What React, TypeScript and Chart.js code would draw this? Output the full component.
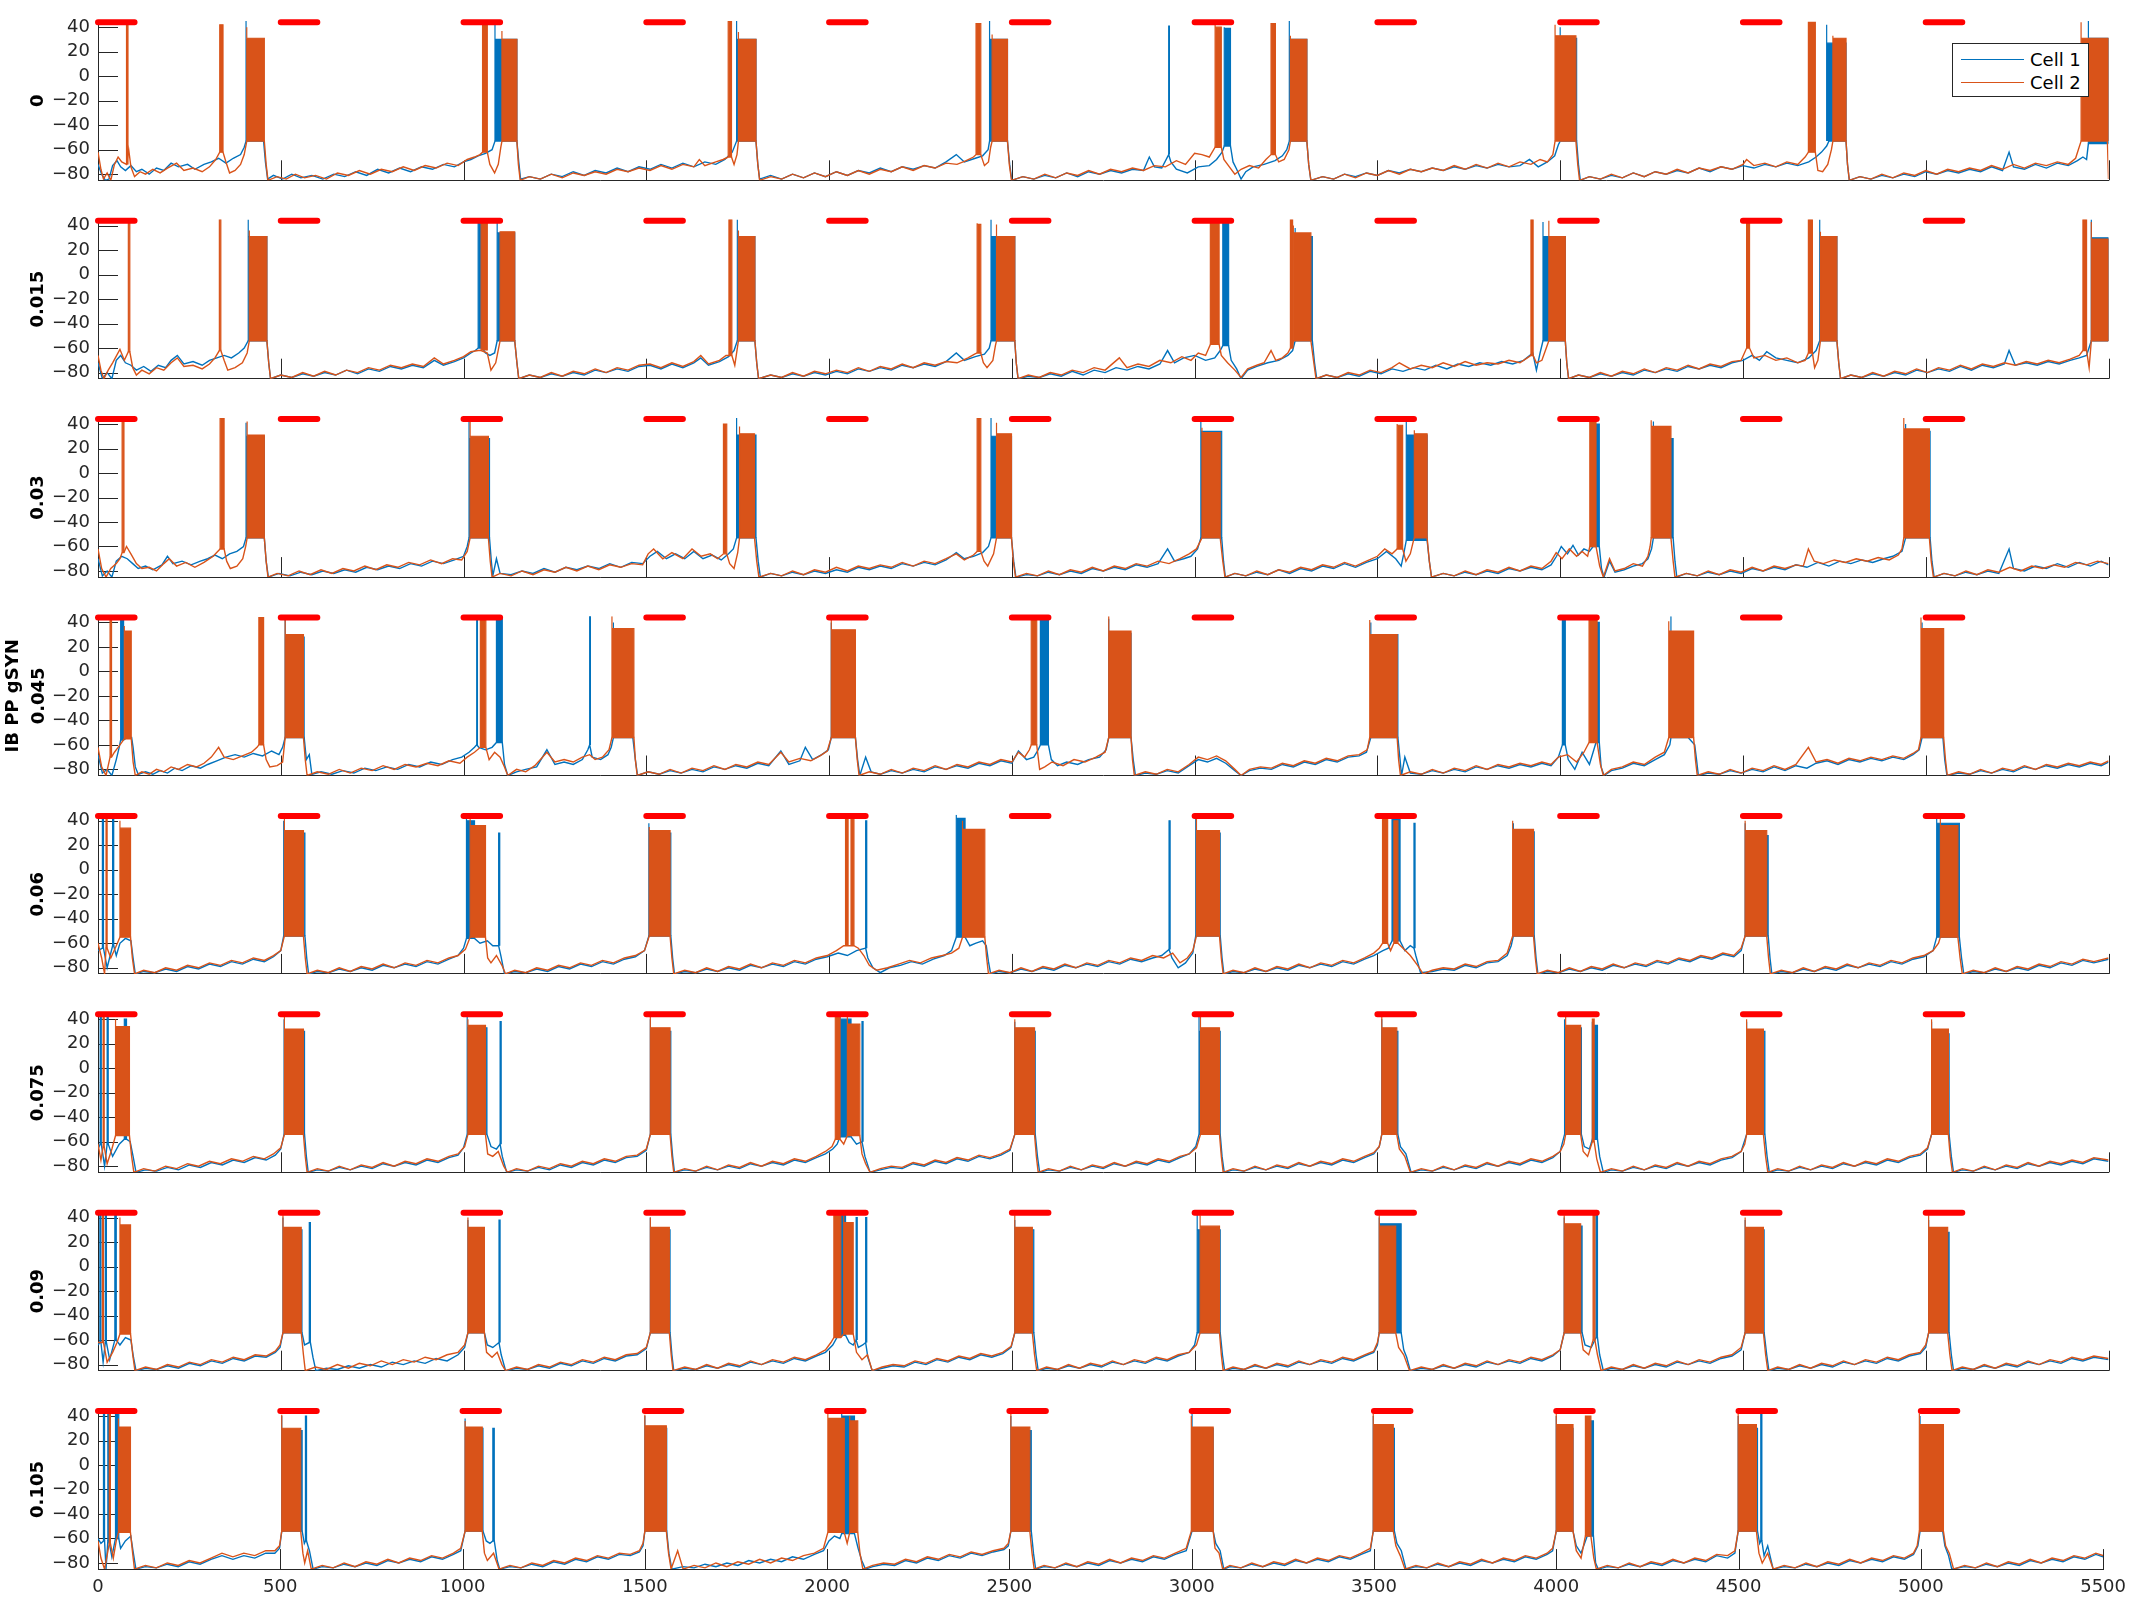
import React, { useEffect, useRef } from "react";
import { Chart, registerables } from "chart.js";
Chart.register(...registerables);

// ---------- shared axis data ----------
const xTickValues = [0, 500, 1000, 1500, 2000, 2500, 3000, 3500, 4000, 4500, 5000, 5500];
const xTickLabels = ["0", "500", "1000", "1500", "2000", "2500", "3000", "3500", "4000", "4500", "5000", "5500"];
const yTickValues = [-80, -60, -40, -20, 0, 20, 40];
const yTickLabels = ["\u221280", "\u221260", "\u221240", "\u221220", "0", "20", "40"];
const xMin = 0;
const xMax = 5500;
const yMin = -85;
const yMax = 45;

// stimulus bars (red)
const stimStarts = [0, 500, 1000, 1500, 2000, 2500, 3000, 3500, 4000, 4500, 5000];
const stimEnds = [100, 600, 1100, 1600, 2100, 2600, 3100, 3600, 4100, 4600, 5100];
const stimLevel = 44;

const panelLabels: (string | string[])[] = ["0", "0.015", "0.03", ["IB PP gSYN", "0.045"], "0.06", "0.075", "0.09", "0.105"];
const seriesNames = ["Cell 1", "Cell 2"];

// bursts: [tStart, tEnd, firstSpikePeak, burstTop, troughLevel]
// ---------- panel 1 : gSYN 0 ----------
const p1Cell1Bursts = [[405,453,45,30,-53],[1086,1146,42,30,-53],[1747,1800,45,30,-53],[2439,2488,45,30,-53],[2929,2931,41,41,-64],[3081,3098,40,39,-57],[3259,3307,45,30,-53],[4000,4045,40,31,-53],[4729,4782,42,27,-53],[5445,5500,45,31,-55]];
const p1Cell2Bursts = [[78,82,45,45,-72],[333,342,42,42,-62],[407,455,40,31,-53],[1052,1065,45,45,-62],[1105,1146,37,30,-53],[1724,1733,45,45,-66],[1752,1800,36,30,-53],[2402,2415,43,43,-64],[2446,2488,34,30,-53],[3056,3073,42,40,-58],[3209,3221,43,43,-64],[3262,3307,33,30,-53],[3986,4043,42,33,-53],[4679,4698,44,44,-62],[4746,4782,33,31,-53],[5425,5500,44,31,-53]];
const p1Cell1Trace = [0,-72,10,-80,20,-85,30,-84,40,-73,52,-69,62,-74,75,-77,90,-73,105,-78,120,-76,140,-80,160,-75,180,-77,200,-71,220,-74,245,-72,265,-76,290,-72,310,-70,330,-67,350,-71,370,-67,390,-64,400,-58,405,-53,453,-53,458,-70,464,-84,480,-81,505,-84,530,-80,555,-83,585,-81,615,-84,645,-80,675,-82,705,-78,735,-81,765,-76,795,-79,825,-75,855,-78,885,-74,915,-76,945,-72,975,-74,1000,-70,1020,-68,1040,-65,1060,-63,1078,-60,1086,-53,1146,-53,1151,-70,1156,-84,1180,-82,1210,-84,1240,-80,1270,-82,1300,-78,1330,-81,1360,-77,1390,-79,1420,-75,1450,-78,1480,-74,1510,-76,1540,-72,1570,-75,1600,-71,1630,-74,1660,-70,1690,-72,1715,-68,1735,-62,1747,-53,1800,-53,1805,-72,1810,-84,1840,-81,1870,-84,1900,-80,1930,-83,1960,-79,1990,-82,2020,-78,2050,-81,2080,-77,2110,-79,2140,-75,2170,-78,2200,-74,2230,-76,2260,-73,2290,-75,2320,-70,2348,-64,2370,-70,2400,-67,2420,-65,2435,-60,2439,-53,2488,-53,2494,-72,2500,-85,2530,-82,2560,-84,2590,-81,2620,-83,2650,-79,2680,-82,2710,-78,2740,-80,2770,-77,2800,-79,2830,-76,2860,-77,2876,-66,2890,-74,2910,-75,2929,-64,2935,-70,2950,-76,2980,-79,3010,-74,3040,-73,3060,-68,3075,-62,3081,-57,3098,-57,3105,-70,3115,-76,3127,-84,3140,-78,3160,-74,3190,-72,3220,-69,3240,-65,3252,-60,3259,-53,3307,-53,3312,-72,3318,-85,3350,-82,3380,-84,3410,-80,3440,-82,3470,-79,3500,-81,3530,-77,3560,-79,3590,-76,3620,-78,3650,-75,3680,-77,3710,-74,3740,-76,3770,-73,3800,-75,3830,-72,3860,-74,3890,-73,3916,-68,3940,-74,3965,-70,3985,-65,3995,-56,4000,-53,4045,-53,4050,-72,4055,-85,4080,-82,4110,-84,4140,-81,4170,-83,4200,-79,4230,-82,4260,-78,4290,-80,4320,-77,4350,-79,4380,-75,4410,-78,4440,-74,4470,-76,4500,-73,4530,-75,4560,-72,4590,-74,4620,-71,4650,-73,4680,-70,4700,-66,4715,-62,4729,-57,4735,-53,4782,-53,4786,-72,4791,-85,4820,-82,4850,-84,4880,-81,4910,-83,4940,-80,4970,-82,5000,-78,5030,-80,5060,-77,5090,-79,5120,-76,5150,-78,5180,-74,5210,-77,5228,-62,5240,-74,5270,-76,5300,-72,5330,-75,5360,-71,5390,-73,5415,-69,5430,-66,5440,-68,5445,-55,5500,-55];
const p1Cell2Trace = [0,-62,8,-76,15,-84,25,-79,35,-85,45,-72,55,-66,65,-70,78,-72,84,-60,90,-74,100,-82,115,-78,130,-80,150,-76,170,-79,190,-75,215,-71,235,-77,260,-75,285,-78,305,-74,322,-68,333,-62,342,-62,350,-70,360,-79,375,-77,390,-72,400,-64,407,-53,455,-53,460,-72,465,-85,490,-82,515,-84,540,-80,565,-83,595,-81,625,-84,655,-79,685,-81,715,-77,745,-80,775,-76,805,-78,835,-74,865,-77,895,-73,925,-75,955,-71,985,-73,1010,-68,1030,-66,1045,-64,1052,-62,1065,-62,1072,-72,1085,-79,1095,-72,1102,-58,1105,-53,1146,-53,1150,-72,1155,-85,1180,-82,1210,-84,1240,-80,1270,-83,1300,-79,1330,-81,1360,-78,1390,-80,1420,-76,1450,-78,1480,-75,1510,-77,1540,-73,1570,-76,1600,-72,1630,-74,1645,-68,1660,-73,1690,-70,1710,-68,1724,-66,1733,-66,1740,-72,1748,-64,1752,-53,1800,-53,1805,-72,1810,-85,1840,-82,1870,-84,1900,-80,1930,-83,1960,-79,1990,-82,2020,-78,2050,-81,2080,-77,2110,-80,2140,-76,2170,-78,2200,-74,2230,-77,2260,-73,2290,-75,2320,-71,2350,-72,2375,-69,2395,-66,2402,-64,2415,-64,2425,-73,2436,-70,2442,-58,2446,-53,2488,-53,2493,-72,2499,-85,2530,-82,2560,-84,2590,-80,2620,-83,2650,-79,2680,-81,2710,-77,2740,-80,2770,-76,2800,-78,2830,-75,2860,-77,2890,-73,2920,-74,2950,-69,2975,-72,3000,-63,3020,-64,3040,-66,3056,-58,3073,-58,3080,-68,3095,-74,3110,-80,3127,-76,3150,-73,3175,-75,3195,-68,3209,-64,3221,-64,3230,-70,3245,-68,3258,-60,3262,-53,3307,-53,3312,-72,3318,-85,3350,-82,3380,-84,3410,-80,3440,-83,3470,-79,3500,-81,3530,-77,3560,-80,3590,-76,3620,-78,3650,-75,3680,-77,3710,-73,3740,-76,3770,-72,3800,-75,3830,-71,3860,-74,3890,-70,3920,-72,3945,-68,3965,-70,3980,-64,3986,-53,4043,-53,4048,-72,4053,-85,4080,-82,4110,-84,4140,-80,4170,-83,4200,-79,4230,-82,4260,-78,4290,-80,4320,-76,4350,-79,4380,-75,4410,-77,4440,-74,4470,-76,4500,-72,4510,-68,4530,-73,4560,-71,4590,-74,4620,-70,4650,-72,4670,-66,4679,-62,4698,-62,4705,-77,4718,-78,4732,-72,4742,-60,4746,-53,4782,-53,4786,-72,4791,-85,4820,-82,4850,-84,4880,-80,4910,-83,4940,-79,4970,-81,5000,-77,5030,-80,5060,-76,5090,-78,5120,-75,5150,-77,5180,-73,5210,-76,5240,-72,5270,-75,5300,-71,5330,-73,5360,-70,5390,-72,5410,-67,5425,-53,5497,-53,5500,-84];

// ---------- panel 2 : 0.015 ----------
const p2Cell1Bursts = [[411,462,45,31,-54],[1040,1052,42,42,-60],[1092,1140,43,34,-54],[1749,1797,45,31,-54],[2443,2508,45,31,-54],[3077,3093,42,42,-58],[3275,3322,38,31,-54],[3953,4014,43,31,-54],[4710,4757,45,31,-54],[5453,5500,45,30,-54]];
const p2Cell2Bursts = [[83,87,45,45,-63],[332,336,45,45,-62],[414,462,36,31,-54],[1048,1065,44,42,-62],[1100,1140,34,35,-54],[1726,1734,45,45,-66],[1752,1797,36,31,-54],[2405,2415,42,41,-64],[2458,2508,41,31,-54],[3043,3067,43,42,-57],[3262,3268,45,45,-60],[3270,3318,40,34,-54],[3920,3926,45,45,-66],[3969,4014,44,31,-54],[4510,4518,44,44,-60],[4679,4690,45,45,-64],[4712,4757,35,31,-54],[5430,5440,45,45,-62],[5453,5500,43,29,-54]];
const p2Cell1Trace = [0,-72,12,-85,25,-80,38,-85,50,-70,62,-66,75,-72,90,-74,105,-78,125,-75,145,-79,165,-74,185,-76,200,-70,217,-66,235,-73,260,-71,285,-74,305,-70,325,-68,345,-66,365,-68,385,-64,400,-60,411,-54,462,-54,467,-72,472,-85,500,-82,530,-84,560,-81,590,-83,620,-80,650,-82,680,-78,710,-81,740,-77,770,-79,800,-75,830,-77,860,-74,890,-76,920,-70,945,-74,975,-71,1000,-68,1020,-64,1032,-62,1040,-60,1052,-60,1060,-64,1072,-66,1085,-64,1092,-54,1140,-54,1146,-72,1151,-85,1180,-82,1210,-84,1240,-81,1270,-83,1300,-80,1330,-82,1360,-78,1390,-80,1420,-77,1450,-79,1480,-75,1510,-74,1540,-77,1570,-73,1600,-76,1630,-72,1649,-68,1670,-74,1700,-71,1725,-67,1740,-62,1749,-54,1797,-54,1802,-72,1807,-85,1840,-82,1870,-84,1900,-81,1930,-83,1960,-80,1990,-82,2020,-79,2050,-81,2080,-77,2110,-79,2140,-76,2170,-78,2200,-74,2230,-76,2260,-73,2290,-75,2320,-71,2348,-64,2370,-70,2400,-67,2425,-65,2438,-60,2443,-54,2508,-54,2512,-72,2517,-85,2545,-83,2575,-84,2605,-81,2635,-83,2665,-79,2695,-82,2725,-78,2755,-80,2785,-76,2815,-78,2845,-75,2875,-77,2905,-73,2926,-62,2945,-72,2970,-68,3000,-66,3030,-70,3055,-68,3070,-62,3077,-58,3093,-58,3100,-70,3115,-77,3127,-85,3145,-78,3170,-75,3200,-72,3230,-70,3255,-66,3268,-62,3275,-54,3322,-54,3328,-72,3334,-85,3360,-82,3390,-84,3420,-81,3450,-83,3480,-79,3510,-81,3540,-77,3570,-79,3600,-76,3630,-78,3660,-74,3690,-77,3720,-73,3750,-75,3780,-72,3810,-74,3840,-71,3870,-73,3900,-70,3925,-64,3935,-78,3945,-64,3953,-54,4014,-54,4018,-72,4023,-85,4050,-82,4080,-84,4110,-81,4140,-83,4170,-80,4200,-82,4230,-78,4260,-80,4290,-77,4320,-79,4350,-75,4380,-77,4410,-74,4440,-76,4470,-72,4500,-70,4525,-66,4545,-70,4565,-63,4590,-68,4620,-70,4650,-72,4680,-68,4700,-62,4710,-54,4757,-54,4762,-72,4767,-85,4795,-82,4825,-84,4855,-81,4885,-83,4915,-80,4945,-82,4975,-78,5005,-80,5035,-77,5065,-79,5095,-75,5125,-78,5155,-74,5185,-76,5215,-73,5228,-62,5245,-74,5275,-72,5305,-74,5335,-71,5365,-73,5395,-70,5420,-68,5440,-66,5453,-54,5500,-54];
const p2Cell2Trace = [0,-66,8,-78,16,-85,28,-78,40,-72,60,-61,72,-70,83,-63,87,-63,95,-76,105,-82,120,-78,140,-81,160,-76,180,-78,200,-72,217,-68,235,-75,260,-74,285,-77,305,-73,320,-68,332,-62,336,-62,345,-70,355,-78,375,-76,395,-72,408,-64,414,-54,462,-54,467,-72,472,-85,500,-82,530,-84,560,-80,590,-83,620,-79,650,-82,680,-78,710,-80,740,-76,770,-78,800,-74,830,-76,860,-73,890,-75,920,-68,945,-73,975,-70,1000,-67,1020,-63,1040,-62,1048,-62,1065,-64,1075,-78,1088,-72,1096,-60,1100,-54,1140,-54,1146,-72,1151,-85,1180,-82,1210,-84,1240,-80,1270,-83,1300,-79,1330,-81,1360,-77,1390,-80,1420,-76,1450,-78,1480,-74,1510,-73,1540,-76,1570,-72,1600,-75,1630,-71,1649,-66,1670,-73,1700,-70,1718,-66,1726,-66,1734,-66,1742,-74,1748,-62,1752,-54,1797,-54,1802,-72,1807,-85,1840,-82,1870,-84,1900,-80,1930,-83,1960,-79,1990,-81,2020,-78,2050,-80,2080,-76,2110,-79,2140,-75,2170,-77,2200,-73,2230,-76,2260,-72,2290,-74,2320,-71,2350,-72,2380,-68,2398,-65,2405,-64,2415,-64,2422,-72,2432,-76,2448,-70,2455,-58,2458,-54,2508,-54,2512,-72,2517,-85,2545,-82,2575,-84,2605,-80,2635,-82,2665,-78,2695,-80,2725,-76,2755,-78,2794,-68,2815,-76,2845,-73,2875,-75,2905,-70,2935,-72,2965,-67,2990,-70,3010,-64,3030,-66,3043,-57,3067,-57,3073,-66,3090,-72,3110,-78,3127,-84,3145,-77,3170,-74,3190,-72,3209,-62,3222,-70,3240,-68,3255,-64,3262,-60,3268,-60,3270,-54,3318,-54,3326,-72,3332,-85,3360,-82,3390,-84,3420,-80,3450,-82,3480,-78,3510,-80,3540,-76,3560,-72,3590,-77,3620,-74,3650,-76,3680,-72,3710,-75,3740,-71,3770,-74,3800,-72,3830,-73,3860,-70,3890,-72,3910,-68,3920,-66,3926,-66,3935,-72,3950,-70,3962,-60,3969,-54,4014,-54,4018,-72,4023,-85,4050,-82,4080,-84,4110,-80,4140,-83,4170,-79,4200,-81,4230,-77,4260,-80,4290,-76,4320,-78,4350,-74,4380,-77,4410,-73,4440,-75,4470,-71,4495,-70,4510,-60,4518,-60,4530,-68,4560,-66,4590,-70,4620,-68,4650,-72,4670,-70,4679,-64,4690,-64,4696,-76,4705,-70,4712,-54,4757,-54,4762,-72,4767,-85,4795,-82,4825,-84,4855,-80,4885,-83,4915,-79,4945,-81,4975,-77,5005,-80,5035,-76,5065,-78,5095,-74,5125,-77,5155,-73,5185,-75,5215,-72,5245,-74,5275,-71,5305,-73,5335,-70,5365,-72,5395,-69,5420,-66,5430,-62,5440,-62,5447,-76,5453,-54,5500,-54];

// ---------- panel 3 : 0.03 ----------
const p3Cell1Bursts = [[405,455,41,30,-53],[1015,1071,42,28,-53],[1747,1800,45,31,-53],[2443,2499,45,30,-53],[3017,3074,43,34,-53],[3579,3636,42,31,-55],[4090,4107,42,40,-60],[4255,4309,42,28,-53],[4945,5012,40,34,-53]];
const p3Cell2Bursts = [[66,71,42,42,-65],[334,345,45,45,-62],[408,455,42,31,-53],[1018,1068,42,30,-53],[1711,1720,40,40,-66],[1755,1796,38,32,-53],[2405,2415,45,45,-64],[2458,2499,41,32,-53],[3020,3070,37,33,-53],[3554,3569,40,39,-62],[3601,3636,35,32,-53],[4081,4098,42,42,-60],[4249,4303,43,38,-53],[4940,5010,45,36,-53]];
const p3Cell1Trace = [0,-70,12,-84,25,-80,38,-85,50,-72,65,-68,80,-70,95,-74,110,-78,130,-76,150,-79,175,-75,190,-68,205,-74,230,-72,255,-75,280,-72,300,-70,320,-67,340,-70,360,-66,380,-64,398,-60,405,-53,455,-53,460,-72,466,-85,495,-82,525,-84,555,-81,585,-83,615,-80,645,-82,675,-79,705,-81,735,-77,765,-79,795,-76,825,-78,855,-74,885,-76,915,-72,945,-74,975,-71,1000,-68,1010,-60,1015,-53,1071,-53,1076,-72,1080,-84,1090,-70,1100,-82,1130,-83,1160,-80,1190,-82,1220,-78,1250,-81,1280,-77,1310,-79,1340,-76,1370,-78,1400,-74,1430,-77,1460,-73,1490,-74,1510,-68,1530,-64,1555,-70,1580,-66,1605,-70,1630,-64,1655,-70,1680,-67,1705,-71,1725,-66,1738,-62,1747,-53,1800,-53,1806,-72,1812,-85,1840,-82,1870,-84,1900,-81,1930,-83,1960,-80,1990,-82,2020,-79,2050,-81,2080,-77,2110,-79,2140,-76,2170,-78,2200,-74,2230,-76,2260,-73,2290,-75,2320,-71,2348,-65,2370,-70,2395,-68,2420,-65,2436,-60,2443,-53,2499,-53,2505,-72,2511,-85,2540,-83,2570,-84,2600,-81,2630,-83,2660,-80,2690,-82,2720,-78,2750,-80,2780,-77,2810,-79,2840,-75,2870,-77,2900,-74,2926,-62,2945,-72,2970,-70,2990,-68,3008,-62,3017,-53,3074,-53,3079,-72,3084,-85,3110,-82,3140,-84,3170,-81,3200,-83,3230,-79,3260,-82,3290,-78,3320,-80,3350,-76,3380,-78,3410,-74,3440,-77,3470,-73,3500,-70,3525,-64,3550,-70,3565,-76,3572,-66,3579,-55,3636,-55,3642,-72,3648,-85,3680,-82,3710,-84,3740,-81,3770,-83,3800,-80,3830,-82,3860,-78,3890,-80,3920,-77,3950,-79,3975,-75,3990,-68,4003,-60,4020,-66,4035,-59,4050,-67,4065,-62,4080,-64,4090,-60,4107,-60,4113,-78,4120,-85,4135,-72,4150,-81,4175,-79,4200,-76,4225,-74,4240,-70,4250,-62,4255,-53,4309,-53,4314,-72,4319,-85,4345,-82,4375,-84,4405,-81,4435,-83,4465,-80,4495,-82,4525,-78,4555,-80,4585,-77,4615,-79,4645,-75,4675,-77,4705,-73,4735,-76,4765,-72,4795,-74,4825,-71,4855,-73,4885,-70,4910,-68,4935,-64,4945,-53,5012,-53,5017,-72,5023,-85,5050,-82,5080,-84,5110,-81,5140,-83,5170,-80,5200,-82,5228,-62,5240,-78,5270,-80,5300,-76,5330,-78,5360,-74,5390,-77,5420,-73,5450,-76,5480,-72,5500,-75];
const p3Cell2Trace = [0,-62,10,-78,22,-85,35,-78,50,-74,60,-70,66,-65,71,-65,78,-60,90,-66,105,-74,120,-78,140,-77,160,-80,180,-74,195,-70,215,-76,240,-73,265,-77,290,-73,315,-68,334,-62,345,-62,352,-72,362,-78,380,-76,396,-70,404,-60,408,-53,455,-53,460,-72,465,-85,490,-82,520,-84,550,-80,580,-83,610,-79,640,-82,670,-78,700,-80,730,-76,760,-79,790,-75,820,-77,850,-73,880,-75,910,-71,940,-74,970,-70,995,-71,1010,-64,1018,-53,1068,-53,1073,-72,1078,-85,1100,-82,1130,-84,1160,-80,1190,-83,1220,-79,1250,-81,1280,-77,1310,-80,1340,-76,1370,-79,1400,-75,1430,-77,1460,-74,1490,-75,1505,-66,1520,-62,1545,-70,1570,-65,1600,-70,1625,-62,1650,-68,1675,-66,1695,-70,1711,-66,1720,-66,1728,-74,1740,-78,1750,-65,1755,-53,1796,-53,1802,-72,1808,-85,1840,-82,1870,-84,1900,-80,1930,-83,1960,-79,1990,-81,2020,-77,2050,-80,2080,-76,2110,-78,2140,-75,2170,-77,2200,-73,2230,-76,2260,-72,2290,-74,2320,-70,2348,-66,2370,-71,2395,-67,2405,-64,2415,-64,2424,-72,2434,-76,2450,-66,2458,-53,2499,-53,2504,-72,2510,-85,2540,-82,2570,-84,2600,-80,2630,-83,2660,-79,2690,-81,2720,-77,2750,-80,2780,-76,2810,-78,2840,-74,2870,-76,2900,-72,2930,-74,2960,-70,2985,-66,3005,-62,3015,-56,3020,-53,3070,-53,3077,-72,3083,-85,3110,-82,3140,-84,3170,-80,3200,-83,3230,-79,3260,-81,3290,-77,3320,-79,3350,-75,3380,-77,3410,-73,3440,-76,3470,-72,3500,-68,3520,-62,3540,-66,3554,-62,3569,-62,3578,-72,3590,-66,3598,-56,3601,-53,3636,-53,3642,-72,3648,-85,3680,-82,3710,-84,3740,-80,3770,-83,3800,-79,3830,-81,3860,-77,3890,-80,3920,-76,3950,-78,3975,-72,3989,-65,4005,-70,4025,-62,4045,-68,4060,-64,4075,-68,4081,-60,4098,-60,4108,-76,4118,-85,4135,-70,4150,-80,4175,-78,4200,-74,4225,-76,4240,-68,4246,-60,4249,-53,4303,-53,4309,-72,4314,-85,4345,-82,4375,-84,4405,-80,4435,-83,4465,-79,4495,-81,4525,-77,4555,-80,4585,-76,4615,-78,4645,-75,4665,-76,4679,-62,4695,-72,4720,-74,4750,-71,4780,-73,4810,-70,4840,-72,4870,-69,4900,-71,4925,-67,4935,-62,4940,-53,5010,-53,5015,-72,5021,-85,5050,-82,5080,-84,5110,-80,5140,-83,5170,-79,5200,-81,5230,-77,5260,-80,5290,-76,5320,-78,5350,-75,5380,-77,5410,-73,5440,-75,5470,-72,5500,-74];

// ---------- panel 4 : 0.045 ----------
const p4Cell1Bursts = [[62,70,45,45,-56],[512,564,44,28,-54],[1036,1038,45,45,-60],[1090,1106,44,44,-58],[1345,1347,45,45,-60],[1410,1463,40,33,-54],[2006,2072,40,28,-54],[2578,2600,45,45,-60],[2765,2826,43,31,-54],[3482,3556,40,30,-54],[4006,4014,45,45,-60],[4098,4107,40,40,-58],[4303,4350,45,31,-54],[4990,5047,40,30,-54]];
const p4Cell2Bursts = [[33,37,45,45,-70],[72,91,37,33,-55],[440,453,44,44,-60],[512,562,44,30,-54],[1046,1061,45,45,-62],[1406,1466,45,35,-54],[2006,2072,42,34,-54],[2553,2568,45,45,-60],[2765,2826,45,33,-54],[3479,3554,42,30,-54],[4079,4101,42,42,-58],[4297,4365,41,33,-54],[4987,5049,44,35,-54]];
const p4Cell1Trace = [0,-68,12,-83,25,-80,38,-85,50,-72,58,-62,62,-56,70,-56,80,-54,92,-54,96,-62,102,-78,110,-84,130,-82,150,-84,170,-81,190,-83,210,-79,230,-81,255,-77,280,-79,300,-76,325,-73,350,-70,375,-68,400,-70,425,-67,450,-69,475,-65,495,-68,505,-62,512,-54,564,-54,570,-72,578,-68,585,-84,610,-82,640,-84,670,-81,700,-83,730,-79,760,-81,790,-78,820,-80,850,-76,880,-78,910,-74,940,-76,970,-72,995,-70,1015,-66,1030,-62,1036,-60,1042,-62,1060,-64,1078,-62,1090,-58,1106,-58,1112,-76,1121,-85,1145,-82,1170,-80,1200,-78,1228,-64,1250,-76,1275,-74,1300,-76,1325,-72,1340,-64,1345,-60,1352,-70,1375,-72,1395,-68,1404,-62,1410,-54,1463,-54,1470,-72,1476,-85,1505,-82,1535,-84,1565,-81,1595,-83,1625,-80,1655,-82,1685,-78,1715,-80,1745,-77,1775,-79,1805,-75,1835,-77,1868,-65,1890,-76,1920,-73,1935,-62,1955,-72,1980,-68,1998,-64,2006,-54,2072,-54,2078,-72,2084,-85,2100,-70,2115,-82,2140,-84,2170,-81,2200,-83,2230,-80,2260,-82,2290,-78,2320,-80,2350,-77,2380,-79,2410,-75,2440,-77,2470,-73,2500,-75,2518,-65,2540,-72,2560,-70,2572,-64,2578,-60,2600,-60,2608,-72,2625,-77,2650,-74,2680,-76,2710,-72,2740,-70,2758,-64,2765,-54,2826,-54,2832,-72,2838,-85,2865,-83,2895,-84,2925,-81,2955,-83,2985,-77,3010,-72,3035,-74,3060,-71,3085,-75,3110,-81,3127,-85,3150,-81,3180,-79,3210,-80,3240,-76,3270,-78,3300,-74,3330,-76,3360,-72,3390,-74,3420,-70,3450,-69,3470,-66,3482,-54,3556,-54,3562,-72,3566,-85,3575,-70,3590,-83,3620,-84,3650,-81,3680,-83,3710,-80,3740,-82,3770,-78,3800,-80,3830,-77,3860,-79,3890,-76,3920,-78,3950,-75,3975,-77,3995,-70,4006,-60,4014,-60,4022,-72,4040,-80,4060,-66,4080,-76,4098,-58,4107,-58,4112,-78,4120,-85,4140,-81,4170,-79,4200,-75,4230,-77,4260,-72,4285,-68,4300,-60,4303,-54,4350,-54,4368,-60,4373,-72,4378,-85,4405,-83,4435,-84,4465,-81,4495,-83,4525,-80,4555,-82,4585,-78,4615,-81,4645,-77,4675,-79,4700,-75,4730,-73,4760,-76,4790,-72,4820,-74,4850,-71,4880,-73,4910,-70,4940,-72,4965,-68,4982,-64,4990,-54,5047,-54,5052,-72,5058,-85,5090,-83,5120,-84,5150,-81,5180,-83,5210,-80,5240,-82,5270,-78,5300,-80,5330,-77,5360,-79,5390,-76,5420,-78,5450,-75,5480,-77,5500,-74];
const p4Cell2Trace = [0,-62,10,-78,22,-85,33,-70,37,-70,45,-66,55,-62,65,-58,72,-55,91,-55,96,-74,102,-85,120,-82,140,-84,160,-80,180,-82,200,-78,220,-80,245,-76,270,-78,290,-75,310,-70,330,-62,345,-70,370,-72,395,-69,420,-66,435,-62,440,-60,453,-60,460,-72,470,-78,490,-77,505,-74,510,-60,512,-54,562,-54,567,-72,572,-85,600,-82,630,-84,660,-80,690,-83,720,-79,750,-81,780,-77,810,-80,840,-76,870,-78,900,-75,930,-77,960,-73,990,-75,1010,-70,1030,-66,1046,-62,1061,-62,1070,-72,1085,-66,1100,-70,1112,-78,1121,-85,1145,-80,1170,-82,1195,-77,1228,-66,1250,-74,1275,-72,1300,-74,1325,-70,1345,-68,1360,-72,1380,-70,1398,-64,1406,-54,1466,-54,1470,-72,1475,-85,1505,-82,1535,-84,1565,-80,1595,-83,1625,-79,1655,-81,1685,-77,1715,-80,1745,-76,1775,-78,1805,-74,1835,-76,1868,-66,1890,-74,1920,-71,1950,-73,1975,-69,1995,-65,2006,-54,2072,-54,2077,-72,2082,-85,2110,-82,2140,-84,2170,-80,2200,-83,2230,-79,2260,-81,2290,-77,2320,-80,2350,-76,2380,-78,2410,-74,2440,-76,2470,-72,2500,-74,2518,-66,2535,-70,2548,-64,2553,-60,2568,-60,2576,-80,2590,-78,2610,-74,2640,-77,2670,-72,2700,-74,2730,-70,2755,-66,2765,-54,2826,-54,2830,-72,2835,-85,2865,-82,2895,-84,2925,-80,2955,-82,2985,-76,3010,-70,3035,-72,3060,-69,3085,-73,3110,-80,3127,-85,3150,-80,3180,-78,3210,-79,3240,-75,3270,-77,3300,-73,3330,-75,3360,-71,3390,-73,3420,-69,3450,-68,3472,-64,3479,-54,3554,-54,3558,-72,3563,-85,3590,-82,3620,-84,3650,-80,3680,-83,3710,-79,3740,-81,3770,-77,3800,-80,3830,-76,3860,-78,3890,-75,3920,-77,3950,-74,3975,-76,3995,-70,4020,-68,4045,-74,4065,-66,4079,-58,4101,-58,4110,-76,4118,-85,4140,-80,4170,-78,4200,-74,4230,-76,4260,-70,4285,-66,4297,-54,4365,-54,4370,-72,4375,-85,4405,-82,4435,-84,4465,-80,4495,-83,4525,-79,4555,-81,4585,-77,4615,-80,4645,-76,4679,-62,4700,-74,4730,-72,4760,-75,4790,-71,4820,-73,4850,-70,4880,-72,4910,-69,4940,-71,4965,-67,4980,-64,4987,-54,5049,-54,5054,-72,5059,-85,5090,-82,5120,-84,5150,-80,5180,-83,5210,-79,5240,-81,5270,-77,5300,-80,5330,-76,5360,-78,5390,-75,5420,-77,5450,-74,5480,-76,5500,-73];

// ---------- panel 5 : 0.06 ----------
const p5Cell1Bursts = [[12,15,45,45,-64],[40,43,45,45,-62],[508,566,40,30,-54],[1008,1030,44,40,-56],[1096,1099,30,30,-62],[1507,1567,38,30,-54],[2100,2103,40,40,-64],[2348,2372,45,42,-55],[2930,2933,40,40,-65],[3003,3070,42,30,-54],[3540,3562,44,42,-58],[3600,3603,38,38,-64],[3872,3929,38,31,-54],[4506,4569,38,28,-54],[5030,5092,45,38,-55]];
const p5Cell2Bursts = [[22,25,45,45,-64],[60,89,40,34,-55],[510,562,42,32,-54],[1018,1060,42,36,-55],[1508,1565,35,32,-54],[2045,2052,45,45,-62],[2060,2068,44,44,-62],[2365,2426,40,33,-55],[3005,3068,45,32,-54],[3514,3528,42,42,-60],[3545,3556,40,40,-60],[3870,3927,40,33,-54],[4506,4565,40,32,-54],[5040,5088,42,36,-55]];
const p5Cell1Trace = [0,-66,12,-64,15,-64,25,-80,40,-62,43,-62,50,-70,60,-60,75,-56,90,-58,96,-72,102,-85,125,-83,155,-84,185,-81,215,-83,245,-79,275,-81,305,-77,335,-79,365,-75,395,-77,425,-73,455,-75,480,-71,500,-66,508,-54,566,-54,571,-72,576,-85,600,-83,630,-84,660,-81,690,-83,720,-80,750,-82,780,-78,810,-80,840,-77,870,-79,900,-75,930,-77,960,-73,985,-70,1000,-64,1008,-56,1030,-56,1045,-60,1065,-58,1080,-62,1096,-62,1102,-70,1112,-85,1140,-83,1170,-84,1200,-81,1230,-83,1260,-79,1290,-81,1320,-77,1350,-79,1380,-75,1410,-77,1440,-73,1470,-71,1495,-66,1507,-54,1567,-54,1572,-72,1577,-85,1605,-83,1635,-84,1665,-81,1695,-83,1725,-80,1755,-82,1785,-78,1815,-80,1845,-77,1875,-79,1905,-75,1935,-77,1965,-73,1995,-71,2025,-68,2050,-70,2075,-66,2100,-64,2106,-72,2120,-80,2140,-84,2165,-80,2195,-78,2225,-75,2255,-77,2285,-73,2315,-70,2335,-66,2348,-55,2372,-55,2385,-62,2400,-60,2420,-58,2430,-62,2436,-75,2442,-85,2465,-83,2495,-84,2525,-81,2555,-83,2585,-80,2615,-82,2645,-78,2675,-80,2705,-77,2735,-79,2765,-75,2795,-77,2825,-73,2855,-75,2885,-72,2910,-70,2930,-65,2938,-72,2955,-80,2975,-76,2995,-68,3003,-54,3070,-54,3075,-72,3080,-85,3105,-83,3135,-84,3165,-81,3195,-83,3225,-80,3255,-82,3285,-78,3315,-80,3345,-77,3375,-79,3405,-75,3435,-77,3465,-73,3490,-70,3515,-66,3530,-64,3540,-58,3562,-58,3575,-66,3590,-62,3600,-64,3605,-70,3618,-84,3650,-83,3680,-81,3710,-82,3740,-78,3770,-80,3800,-76,3830,-75,3855,-70,3866,-62,3872,-54,3929,-54,3934,-72,3939,-85,3965,-83,3995,-84,4025,-81,4055,-83,4085,-80,4115,-82,4145,-78,4175,-80,4205,-77,4235,-79,4265,-75,4295,-77,4325,-73,4355,-75,4385,-71,4415,-73,4445,-69,4475,-71,4495,-66,4506,-54,4569,-54,4574,-72,4579,-85,4605,-83,4635,-84,4665,-81,4695,-83,4725,-80,4755,-82,4785,-78,4815,-80,4845,-77,4875,-79,4905,-75,4935,-77,4965,-73,4995,-71,5020,-66,5030,-55,5092,-55,5098,-72,5104,-85,5130,-83,5160,-84,5190,-81,5220,-83,5250,-80,5280,-82,5310,-78,5340,-80,5370,-76,5400,-78,5430,-74,5460,-76,5500,-73];
const p5Cell2Trace = [0,-60,10,-72,18,-85,22,-64,25,-64,35,-72,50,-62,60,-55,89,-55,94,-72,100,-85,125,-82,155,-84,185,-80,215,-82,245,-78,275,-80,305,-76,335,-78,365,-74,395,-76,425,-72,455,-74,480,-70,500,-66,510,-54,562,-54,567,-72,572,-85,600,-82,630,-84,660,-80,690,-83,720,-79,750,-81,780,-77,810,-80,840,-76,870,-78,900,-74,930,-76,960,-72,985,-70,1005,-65,1018,-55,1060,-55,1066,-72,1075,-76,1090,-70,1105,-78,1115,-85,1140,-82,1170,-84,1200,-80,1230,-82,1260,-78,1290,-80,1320,-76,1350,-78,1380,-74,1410,-76,1440,-72,1470,-70,1495,-66,1508,-54,1565,-54,1570,-72,1575,-85,1605,-82,1635,-84,1665,-80,1695,-83,1725,-79,1755,-81,1785,-77,1815,-80,1845,-76,1875,-78,1905,-74,1935,-76,1965,-72,1995,-70,2020,-66,2040,-62,2052,-62,2060,-62,2068,-62,2080,-64,2095,-70,2110,-78,2130,-82,2160,-80,2190,-77,2220,-74,2250,-76,2280,-72,2310,-70,2335,-68,2355,-64,2365,-55,2426,-55,2431,-72,2436,-85,2465,-82,2495,-84,2525,-80,2555,-83,2585,-79,2615,-81,2645,-77,2675,-80,2705,-76,2735,-78,2765,-74,2795,-76,2825,-72,2855,-74,2885,-70,2915,-72,2940,-68,2960,-76,2980,-72,2995,-66,3005,-54,3068,-54,3073,-72,3078,-85,3105,-82,3135,-84,3165,-80,3195,-83,3225,-79,3255,-81,3285,-77,3315,-80,3345,-76,3375,-78,3405,-74,3435,-76,3465,-72,3490,-68,3505,-64,3514,-60,3528,-60,3536,-66,3545,-60,3556,-60,3570,-64,3590,-70,3610,-78,3625,-85,3650,-82,3680,-80,3710,-81,3740,-77,3770,-79,3800,-75,3830,-74,3855,-68,3870,-54,3927,-54,3932,-72,3937,-85,3965,-82,3995,-84,4025,-80,4055,-83,4085,-79,4115,-81,4145,-77,4175,-80,4205,-76,4235,-78,4265,-74,4295,-76,4325,-72,4355,-74,4385,-70,4415,-72,4445,-68,4475,-70,4495,-64,4506,-54,4565,-54,4570,-72,4575,-85,4605,-82,4635,-84,4665,-80,4695,-83,4725,-79,4755,-81,4785,-77,4815,-80,4845,-76,4875,-78,4905,-74,4935,-76,4965,-72,4995,-70,5020,-66,5035,-60,5040,-55,5088,-55,5094,-72,5100,-85,5130,-82,5160,-84,5190,-80,5220,-83,5250,-79,5280,-81,5310,-77,5340,-79,5370,-75,5400,-77,5430,-73,5460,-75,5500,-72];

// ---------- panel 6 : 0.075 ----------
const p6Cell1Bursts = [[6,9,45,45,-62],[25,28,45,45,-62],[72,78,40,40,-58],[509,565,40,30,-54],[1010,1064,42,33,-54],[1100,1103,38,38,-62],[1511,1567,40,30,-54],[2030,2060,44,40,-56],[2090,2093,38,38,-60],[2508,2564,38,30,-54],[3012,3070,45,30,-54],[3512,3556,40,30,-54],[4012,4058,40,33,-54],[4088,4102,38,35,-58],[4510,4560,38,30,-54],[5016,5064,38,28,-54]];
const p6Cell2Bursts = [[14,17,45,45,-64],[48,86,40,34,-55],[510,562,42,32,-54],[1012,1060,40,35,-54],[1511,1565,42,33,-54],[2017,2030,45,44,-58],[2050,2084,42,36,-55],[2508,2562,40,33,-54],[3016,3068,42,33,-54],[3512,3553,42,33,-54],[4015,4056,42,35,-54],[4088,4093,40,40,-60],[4510,4556,40,32,-54],[5016,5062,40,32,-54]];
const p6Cell1Trace = [0,-66,6,-62,9,-62,18,-80,25,-62,28,-62,40,-72,58,-62,72,-58,78,-58,88,-60,96,-72,104,-85,130,-83,160,-84,190,-81,220,-83,250,-79,280,-81,310,-77,340,-79,370,-75,400,-77,430,-73,460,-75,485,-71,500,-66,509,-54,565,-54,570,-72,575,-85,600,-83,630,-84,660,-81,690,-83,720,-80,750,-82,780,-78,810,-80,840,-77,870,-79,900,-75,930,-77,960,-73,985,-71,1000,-65,1010,-54,1064,-54,1075,-64,1090,-66,1100,-62,1106,-72,1118,-85,1145,-83,1175,-84,1205,-81,1235,-83,1265,-79,1295,-81,1325,-77,1355,-79,1385,-75,1415,-77,1445,-73,1475,-72,1500,-67,1511,-54,1567,-54,1572,-72,1577,-85,1605,-83,1635,-84,1665,-81,1695,-83,1725,-80,1755,-82,1785,-78,1815,-80,1845,-77,1875,-79,1905,-75,1935,-77,1965,-73,1990,-70,2010,-66,2022,-62,2030,-56,2060,-56,2075,-62,2090,-60,2098,-72,2112,-85,2140,-83,2170,-81,2200,-82,2230,-78,2260,-80,2290,-76,2320,-78,2350,-74,2380,-76,2410,-72,2440,-74,2470,-71,2495,-67,2508,-54,2564,-54,2570,-72,2576,-85,2600,-83,2630,-84,2660,-81,2690,-83,2720,-80,2750,-82,2780,-78,2810,-80,2840,-77,2870,-79,2900,-75,2930,-77,2960,-73,2985,-70,3003,-64,3012,-54,3070,-54,3075,-72,3081,-85,3105,-83,3135,-84,3165,-81,3195,-83,3225,-80,3255,-82,3285,-78,3315,-80,3345,-77,3375,-79,3405,-75,3435,-77,3465,-73,3490,-70,3505,-64,3512,-54,3556,-54,3563,-64,3578,-70,3592,-85,3620,-83,3650,-84,3680,-81,3710,-83,3740,-80,3770,-82,3800,-78,3830,-80,3860,-77,3890,-79,3920,-75,3950,-77,3980,-73,4000,-68,4012,-54,4058,-54,4066,-64,4080,-66,4088,-58,4102,-58,4108,-72,4118,-85,4140,-83,4170,-84,4200,-81,4230,-83,4260,-80,4290,-82,4320,-78,4350,-80,4380,-77,4410,-79,4440,-75,4470,-73,4495,-68,4510,-54,4560,-54,4566,-72,4572,-85,4595,-83,4625,-84,4655,-81,4685,-83,4715,-80,4745,-82,4775,-78,4805,-80,4835,-77,4865,-79,4895,-75,4925,-77,4955,-73,4985,-71,5005,-66,5016,-54,5064,-54,5070,-72,5076,-85,5100,-83,5130,-84,5160,-81,5190,-83,5220,-80,5250,-82,5280,-78,5310,-80,5340,-77,5370,-79,5400,-76,5430,-78,5460,-74,5500,-76];
const p6Cell2Trace = [0,-62,8,-75,14,-64,17,-64,25,-78,38,-66,48,-55,86,-55,92,-72,98,-85,125,-82,155,-84,185,-80,215,-82,245,-78,275,-80,305,-76,335,-78,365,-74,395,-76,425,-72,455,-74,480,-70,500,-65,510,-54,562,-54,567,-72,572,-85,600,-82,630,-84,660,-80,690,-83,720,-79,750,-81,780,-77,810,-80,840,-76,870,-78,900,-74,930,-76,960,-72,985,-70,1003,-64,1012,-54,1060,-54,1066,-70,1080,-72,1095,-68,1110,-80,1120,-85,1145,-82,1175,-84,1205,-80,1235,-82,1265,-78,1295,-80,1325,-76,1355,-78,1385,-74,1415,-76,1445,-72,1475,-71,1500,-66,1511,-54,1565,-54,1570,-72,1575,-85,1605,-82,1635,-84,1665,-80,1695,-83,1725,-79,1755,-81,1785,-77,1815,-80,1845,-76,1875,-78,1905,-74,1935,-76,1965,-72,1990,-68,2008,-64,2017,-58,2030,-58,2040,-62,2050,-55,2084,-55,2090,-70,2100,-78,2112,-85,2140,-82,2170,-80,2200,-81,2230,-77,2260,-79,2290,-75,2320,-77,2350,-73,2380,-75,2410,-71,2440,-73,2470,-70,2495,-66,2508,-54,2562,-54,2567,-72,2572,-85,2600,-82,2630,-84,2660,-80,2690,-83,2720,-79,2750,-81,2780,-77,2810,-80,2840,-76,2870,-78,2900,-74,2930,-76,2960,-72,2985,-70,3005,-65,3016,-54,3068,-54,3073,-72,3078,-85,3105,-82,3135,-84,3165,-80,3195,-83,3225,-79,3255,-81,3285,-77,3315,-80,3345,-76,3375,-78,3405,-74,3435,-76,3465,-72,3490,-69,3505,-64,3512,-54,3553,-54,3560,-66,3575,-72,3590,-85,3620,-82,3650,-84,3680,-80,3710,-83,3740,-79,3770,-81,3800,-77,3830,-80,3860,-76,3890,-78,3920,-74,3950,-76,3980,-72,4000,-68,4010,-62,4015,-54,4056,-54,4063,-68,4075,-72,4088,-60,4093,-60,4100,-74,4110,-85,4140,-82,4170,-84,4200,-80,4230,-83,4260,-79,4290,-81,4320,-77,4350,-80,4380,-76,4410,-78,4440,-74,4470,-72,4495,-68,4505,-62,4510,-54,4556,-54,4562,-72,4568,-85,4595,-82,4625,-84,4655,-80,4685,-83,4715,-79,4745,-81,4775,-77,4805,-80,4835,-76,4865,-78,4895,-74,4925,-76,4955,-72,4985,-70,5005,-65,5016,-54,5062,-54,5067,-72,5073,-85,5100,-82,5130,-84,5160,-80,5190,-83,5220,-79,5250,-81,5280,-77,5310,-80,5340,-76,5370,-78,5400,-75,5430,-77,5460,-73,5500,-75];

// ---------- panel 7 : 0.09 ----------
const p7Cell1Bursts = [[5,8,45,45,-62],[20,23,45,45,-62],[46,50,45,45,-60],[506,558,40,30,-54],[578,581,36,36,-62],[1012,1057,38,30,-54],[1097,1100,38,38,-62],[1511,1565,40,30,-54],[2025,2045,44,42,-56],[2074,2077,40,40,-60],[2100,2103,40,40,-62],[2508,2560,38,30,-54],[3007,3070,45,30,-54],[3505,3565,40,35,-54],[4011,4060,40,33,-54],[4098,4102,42,42,-58],[4506,4558,38,30,-54],[5008,5064,38,28,-54]];
const p7Cell2Bursts = [[12,15,45,45,-62],[60,89,40,34,-55],[506,556,42,32,-54],[1012,1057,40,32,-54],[1511,1563,40,32,-54],[2013,2032,45,44,-58],[2040,2066,42,36,-55],[2508,2556,42,32,-54],[3015,3068,42,33,-54],[3505,3550,42,33,-54],[4011,4056,42,35,-54],[4090,4095,42,42,-60],[4506,4556,40,32,-54],[5008,5060,42,32,-54]];
const p7Cell1Trace = [0,-64,5,-62,8,-62,14,-78,20,-62,23,-62,32,-76,46,-60,50,-60,60,-64,75,-58,90,-60,97,-74,104,-85,130,-83,160,-84,190,-81,220,-83,250,-79,280,-81,310,-77,340,-79,370,-75,400,-77,430,-73,460,-74,485,-70,498,-66,506,-54,558,-54,565,-64,578,-62,581,-62,588,-74,596,-85,625,-83,655,-84,685,-81,715,-83,745,-80,775,-82,805,-78,835,-80,865,-77,895,-79,925,-75,955,-77,985,-72,1003,-66,1012,-54,1057,-54,1065,-64,1080,-66,1097,-62,1103,-72,1115,-85,1145,-83,1175,-84,1205,-81,1235,-83,1265,-79,1295,-81,1325,-77,1355,-79,1385,-75,1415,-77,1445,-73,1475,-72,1500,-67,1511,-54,1565,-54,1570,-72,1575,-85,1605,-83,1635,-84,1665,-81,1695,-83,1725,-80,1755,-82,1785,-78,1815,-80,1845,-77,1875,-79,1905,-75,1935,-77,1965,-73,1990,-70,2010,-64,2025,-56,2045,-56,2055,-62,2066,-64,2074,-60,2080,-66,2092,-64,2100,-62,2106,-74,2118,-85,2145,-83,2175,-81,2205,-82,2235,-78,2265,-80,2295,-76,2325,-78,2355,-74,2385,-76,2415,-72,2445,-74,2475,-71,2498,-66,2508,-54,2560,-54,2566,-72,2572,-85,2595,-83,2625,-84,2655,-81,2685,-83,2715,-80,2745,-82,2775,-78,2805,-80,2835,-77,2865,-79,2895,-75,2925,-77,2955,-73,2985,-70,3000,-64,3007,-54,3070,-54,3076,-72,3082,-85,3105,-83,3135,-84,3165,-81,3195,-83,3225,-80,3255,-82,3285,-78,3315,-80,3345,-77,3375,-79,3405,-75,3435,-77,3465,-73,3490,-70,3500,-64,3505,-54,3565,-54,3572,-68,3580,-74,3590,-85,3620,-83,3650,-84,3680,-81,3710,-83,3740,-80,3770,-82,3800,-78,3830,-80,3860,-77,3890,-79,3920,-75,3950,-77,3980,-73,4000,-68,4011,-54,4060,-54,4068,-64,4085,-66,4098,-58,4102,-58,4108,-72,4118,-85,4140,-83,4170,-84,4200,-81,4230,-83,4260,-80,4290,-82,4320,-78,4350,-80,4380,-77,4410,-79,4440,-75,4470,-73,4495,-68,4506,-54,4558,-54,4565,-72,4571,-85,4595,-83,4625,-84,4655,-81,4685,-83,4715,-80,4745,-82,4775,-78,4805,-80,4835,-77,4865,-79,4895,-75,4925,-77,4955,-73,4985,-71,5000,-66,5008,-54,5064,-54,5070,-72,5076,-85,5100,-83,5130,-84,5160,-81,5190,-83,5220,-80,5250,-82,5280,-78,5310,-80,5340,-77,5370,-79,5400,-75,5430,-77,5460,-74,5500,-76];
const p7Cell2Trace = [0,-62,12,-62,15,-62,25,-78,40,-70,52,-62,60,-55,89,-55,95,-72,101,-85,130,-82,160,-84,190,-80,220,-82,250,-78,280,-80,310,-76,340,-78,370,-74,400,-76,430,-72,460,-73,485,-69,498,-64,506,-54,556,-54,562,-72,567,-85,595,-82,625,-84,655,-80,685,-83,715,-79,745,-81,775,-77,805,-80,835,-76,865,-78,895,-74,925,-76,955,-72,985,-70,1003,-64,1012,-54,1057,-54,1063,-70,1078,-74,1092,-70,1105,-80,1115,-85,1145,-82,1175,-84,1205,-80,1235,-82,1265,-78,1295,-80,1325,-76,1355,-78,1385,-74,1415,-76,1445,-72,1475,-71,1500,-66,1511,-54,1563,-54,1568,-72,1573,-85,1605,-82,1635,-84,1665,-80,1695,-83,1725,-79,1755,-81,1785,-77,1815,-80,1845,-76,1875,-78,1905,-74,1935,-76,1965,-72,1990,-68,2005,-62,2013,-58,2032,-58,2040,-55,2066,-55,2075,-70,2090,-76,2105,-72,2118,-85,2145,-82,2175,-80,2205,-81,2235,-77,2265,-79,2295,-75,2325,-77,2355,-73,2385,-75,2415,-71,2445,-73,2475,-70,2498,-65,2508,-54,2556,-54,2562,-72,2568,-85,2595,-82,2625,-84,2655,-80,2685,-83,2715,-79,2745,-81,2775,-77,2805,-80,2835,-76,2865,-78,2895,-74,2925,-76,2955,-72,2985,-70,3005,-64,3015,-54,3068,-54,3073,-72,3078,-85,3105,-82,3135,-84,3165,-80,3195,-83,3225,-79,3255,-81,3285,-77,3315,-80,3345,-76,3375,-78,3405,-74,3435,-76,3465,-72,3490,-69,3500,-62,3505,-54,3550,-54,3558,-66,3572,-72,3588,-85,3620,-82,3650,-84,3680,-80,3710,-83,3740,-79,3770,-81,3800,-77,3830,-80,3860,-76,3890,-78,3920,-74,3950,-76,3980,-72,4000,-68,4011,-54,4056,-54,4063,-68,4078,-72,4090,-60,4095,-60,4102,-72,4112,-85,4140,-82,4170,-84,4200,-80,4230,-83,4260,-79,4290,-81,4320,-77,4350,-80,4380,-76,4410,-78,4440,-74,4470,-72,4495,-66,4506,-54,4556,-54,4562,-72,4568,-85,4595,-82,4625,-84,4655,-80,4685,-83,4715,-79,4745,-81,4775,-77,4805,-80,4835,-76,4865,-78,4895,-74,4925,-76,4955,-72,4985,-70,5000,-64,5008,-54,5060,-54,5066,-72,5072,-85,5100,-82,5130,-84,5160,-80,5190,-83,5220,-79,5250,-81,5280,-77,5310,-80,5340,-76,5370,-78,5400,-74,5430,-76,5460,-73,5500,-75];

// ---------- panel 8 : 0.105 ----------
const p8Cell1Bursts = [[15,18,45,45,-62],[27,30,45,45,-62],[48,57,45,45,-60],[504,560,40,28,-54],[569,572,40,40,-62],[1007,1056,38,30,-54],[1083,1087,30,30,-62],[1500,1560,40,30,-54],[2040,2075,44,40,-56],[2504,2560,40,28,-54],[3001,3059,45,30,-54],[3498,3556,40,30,-54],[4000,4046,40,30,-54],[4085,4102,40,36,-58],[4499,4552,40,30,-54],[4561,4564,45,45,-62],[4998,5060,40,30,-54]];
const p8Cell2Bursts = [[31,34,45,45,-64],[56,89,38,31,-55],[504,556,41,30,-54],[1007,1054,36,31,-54],[1500,1559,41,32,-54],[2002,2047,42,38,-55],[2062,2084,40,36,-55],[2504,2556,42,31,-54],[2999,3059,40,31,-54],[3498,3553,42,33,-54],[4000,4046,42,33,-54],[4080,4095,40,40,-58],[4499,4549,42,33,-54],[4996,5062,42,33,-54]];
const p8Cell1Trace = [0,-60,8,-64,15,-62,18,-62,22,-85,27,-62,30,-62,38,-75,48,-60,57,-60,62,-68,75,-62,90,-58,96,-70,104,-85,130,-83,160,-84,190,-81,220,-83,250,-79,280,-81,310,-77,340,-74,370,-77,400,-74,430,-76,460,-72,485,-72,498,-68,504,-54,560,-54,566,-64,569,-62,572,-62,580,-70,590,-85,615,-83,645,-84,675,-81,705,-83,735,-80,765,-82,795,-78,825,-80,855,-77,885,-79,915,-75,945,-77,975,-73,995,-70,1007,-54,1056,-54,1065,-62,1075,-64,1083,-62,1087,-62,1095,-78,1102,-85,1130,-83,1160,-84,1190,-81,1220,-83,1250,-79,1280,-81,1310,-77,1340,-79,1370,-75,1400,-77,1430,-73,1460,-74,1485,-71,1495,-66,1500,-54,1560,-54,1566,-72,1574,-85,1605,-83,1635,-84,1665,-81,1695,-83,1725,-80,1755,-82,1785,-78,1815,-80,1845,-77,1875,-79,1905,-75,1935,-77,1965,-73,1990,-70,2005,-62,2020,-58,2035,-60,2040,-56,2075,-56,2085,-68,2095,-78,2105,-85,2125,-83,2155,-81,2185,-82,2215,-78,2245,-80,2275,-76,2305,-78,2335,-74,2365,-76,2395,-72,2425,-74,2455,-71,2485,-69,2497,-66,2504,-54,2560,-54,2566,-72,2572,-85,2595,-83,2625,-84,2655,-81,2685,-83,2715,-80,2745,-82,2775,-78,2805,-80,2835,-77,2865,-79,2895,-75,2925,-77,2955,-73,2985,-70,3001,-54,3059,-54,3066,-64,3078,-70,3088,-85,3105,-83,3135,-84,3165,-81,3195,-83,3225,-80,3255,-82,3285,-78,3315,-80,3345,-77,3375,-79,3405,-75,3435,-77,3465,-73,3490,-70,3498,-54,3556,-54,3563,-64,3575,-70,3588,-85,3615,-83,3645,-84,3675,-81,3705,-83,3735,-80,3765,-82,3795,-78,3825,-80,3855,-77,3885,-79,3915,-75,3945,-77,3975,-73,3990,-70,4000,-54,4046,-54,4055,-66,4068,-72,4085,-58,4102,-58,4108,-80,4115,-85,4140,-83,4170,-84,4200,-81,4230,-83,4260,-80,4290,-82,4320,-78,4350,-80,4380,-77,4410,-79,4440,-74,4470,-76,4490,-72,4499,-54,4552,-54,4558,-64,4561,-62,4564,-62,4570,-74,4580,-66,4595,-85,4625,-83,4655,-84,4685,-81,4715,-83,4745,-80,4775,-82,4805,-78,4835,-80,4865,-77,4895,-79,4925,-75,4955,-77,4980,-73,4992,-66,4998,-54,5060,-54,5066,-66,5076,-74,5085,-85,5120,-83,5150,-84,5180,-81,5210,-83,5240,-80,5270,-82,5300,-78,5330,-80,5360,-77,5390,-79,5420,-75,5450,-77,5480,-73,5500,-75];
const p8Cell2Trace = [0,-62,8,-76,18,-85,31,-64,34,-64,42,-76,50,-62,56,-55,89,-55,95,-72,100,-85,130,-82,160,-84,190,-80,220,-82,250,-78,280,-80,310,-76,340,-72,370,-75,400,-72,430,-74,460,-70,485,-70,498,-66,504,-54,556,-54,562,-72,567,-80,575,-70,585,-85,615,-82,645,-84,675,-80,705,-83,735,-79,765,-81,795,-77,825,-80,855,-76,885,-78,915,-74,945,-76,975,-72,995,-68,1007,-54,1054,-54,1060,-72,1068,-78,1085,-72,1100,-85,1130,-82,1160,-84,1190,-80,1220,-82,1250,-78,1280,-80,1310,-76,1340,-78,1370,-74,1400,-76,1430,-72,1460,-73,1485,-70,1495,-64,1500,-54,1559,-54,1565,-72,1572,-85,1590,-70,1605,-85,1635,-82,1665,-84,1695,-80,1725,-83,1755,-79,1785,-81,1815,-77,1845,-80,1875,-76,1905,-78,1935,-74,1965,-72,1990,-68,2002,-55,2047,-55,2055,-64,2062,-55,2084,-55,2090,-72,2098,-85,2125,-82,2155,-80,2185,-81,2215,-77,2245,-79,2275,-75,2305,-77,2335,-73,2365,-75,2395,-71,2425,-73,2455,-70,2485,-68,2497,-64,2504,-54,2556,-54,2562,-72,2568,-85,2595,-82,2625,-84,2655,-80,2685,-83,2715,-79,2745,-81,2775,-77,2805,-80,2835,-76,2865,-78,2895,-74,2925,-76,2955,-72,2985,-68,2999,-54,3059,-54,3064,-68,3075,-72,3085,-85,3105,-82,3135,-84,3165,-80,3195,-83,3225,-79,3255,-81,3285,-77,3315,-80,3345,-76,3375,-78,3405,-74,3435,-76,3465,-72,3490,-68,3498,-54,3553,-54,3560,-66,3572,-74,3585,-85,3615,-82,3645,-84,3675,-80,3705,-83,3735,-79,3765,-81,3795,-77,3825,-80,3855,-76,3885,-78,3915,-74,3945,-76,3975,-72,3990,-68,4000,-54,4046,-54,4055,-70,4068,-76,4080,-58,4095,-58,4103,-76,4110,-85,4140,-82,4170,-84,4200,-80,4230,-83,4260,-79,4290,-81,4320,-77,4350,-80,4380,-76,4410,-78,4440,-73,4470,-74,4490,-70,4499,-54,4549,-54,4556,-72,4565,-80,4580,-72,4595,-85,4625,-82,4655,-84,4685,-80,4715,-83,4745,-79,4775,-81,4805,-77,4835,-80,4865,-76,4895,-78,4925,-74,4955,-76,4980,-72,4990,-66,4996,-54,5062,-54,5068,-66,5078,-72,5090,-85,5120,-82,5150,-84,5180,-80,5210,-83,5240,-79,5270,-81,5300,-77,5330,-80,5360,-76,5390,-78,5420,-74,5450,-76,5480,-72,5500,-74];

const panelCell1Traces = [p1Cell1Trace, p2Cell1Trace, p3Cell1Trace, p4Cell1Trace, p5Cell1Trace, p6Cell1Trace, p7Cell1Trace, p8Cell1Trace];
const panelCell2Traces = [p1Cell2Trace, p2Cell2Trace, p3Cell2Trace, p4Cell2Trace, p5Cell2Trace, p6Cell2Trace, p7Cell2Trace, p8Cell2Trace];
const panelCell1Bursts = [p1Cell1Bursts, p2Cell1Bursts, p3Cell1Bursts, p4Cell1Bursts, p5Cell1Bursts, p6Cell1Bursts, p7Cell1Bursts, p8Cell1Bursts];
const panelCell2Bursts = [p1Cell2Bursts, p2Cell2Bursts, p3Cell2Bursts, p4Cell2Bursts, p5Cell2Bursts, p6Cell2Bursts, p7Cell2Bursts, p8Cell2Bursts];

// ---------- styling / layout ----------
const CELL1_COLOR = "#0072BD";
const CELL2_COLOR = "#D95319";
const STIM_COLOR = "#FF0000";
const AXIS_COLOR = "#262626";
const FONT = "'DejaVu Sans', sans-serif";
const PAGE_W = 2133;
const AXIS_LEFT = 98;
const AXIS_RIGHT = 2108.5;
const FIRST_TOP = 21.1;
const PANEL_STEP = 198.4;
const PLOT_H = 159.2;
const TICK_LEN = 20;

function toPoints(flat: number[]) {
  const pts: { x: number; y: number }[] = [];
  for (let i = 0; i < flat.length; i += 2) pts.push({ x: flat[i], y: flat[i + 1] });
  return pts;
}

// each burst: the first spike as a vertical stroke, then a filled block of spikes down to the trough
function burstDatasets(bursts: number[][], color: string, order: number) {
  return bursts.map(([t0, t1, spike, top, base]) => ({
    label: "",
    data: [
      { x: t0, y: base },
      { x: t0, y: spike },
      { x: t0, y: top },
      { x: t1, y: top },
      { x: t1, y: base },
    ],
    borderColor: color,
    backgroundColor: color,
    borderWidth: 1.2,
    fill: { value: base },
    pointRadius: 0,
    tension: 0,
    order,
  }));
}

const inwardTicks = {
  id: "inwardTicks",
  beforeDatasetsDraw(chart: any) {
    const { ctx, chartArea, scales } = chart;
    ctx.save();
    ctx.strokeStyle = AXIS_COLOR;
    ctx.lineWidth = 1;
    ctx.beginPath();
    yTickValues.forEach((v) => {
      const y = Math.round(scales.y.getPixelForValue(v)) + 0.5;
      ctx.moveTo(chartArea.left, y);
      ctx.lineTo(chartArea.left + TICK_LEN, y);
    });
    xTickValues.forEach((v) => {
      const x = Math.round(scales.x.getPixelForValue(v)) + 0.5;
      ctx.moveTo(x, chartArea.bottom);
      ctx.lineTo(x, chartArea.bottom - TICK_LEN);
    });
    ctx.stroke();
    ctx.restore();
  },
};

function panelGeometry(i: number, last: boolean) {
  const plotTop = FIRST_TOP + PANEL_STEP * i;
  const canvasTop = Math.floor(plotTop) - 20;
  const padTop = plotTop - canvasTop;
  const xScaleH = last ? 40 : 0;
  const height = Math.ceil(padTop + PLOT_H + xScaleH + 20);
  const padBottom = height - padTop - PLOT_H - xScaleH;
  return { canvasTop, padTop, padBottom, height, xScaleH };
}

function Panel({ index }: { index: number }) {
  const ref = useRef<HTMLCanvasElement | null>(null);
  const last = index === panelLabels.length - 1;
  const geo = panelGeometry(index, last);

  useEffect(() => {
    if (!ref.current) return;
    const stimPts: { x: number; y: number | null }[] = [];
    stimStarts.forEach((s, k) => {
      stimPts.push({ x: s, y: stimLevel }, { x: stimEnds[k], y: stimLevel }, { x: stimEnds[k] + 1, y: null });
    });
    const label = panelLabels[index];
    const multi = Array.isArray(label);

    const datasets: any[] = [
      {
        label: "stim",
        data: stimPts,
        borderColor: STIM_COLOR,
        borderWidth: 6,
        borderCapStyle: "round",
        pointRadius: 0,
        spanGaps: false,
        clip: false,
        order: 0,
      },
      {
        label: seriesNames[1],
        data: toPoints(panelCell2Traces[index]),
        borderColor: CELL2_COLOR,
        borderWidth: 1.4,
        pointRadius: 0,
        tension: 0,
        order: 1,
      },
      ...burstDatasets(panelCell2Bursts[index], CELL2_COLOR, 1),
      {
        label: seriesNames[0],
        data: toPoints(panelCell1Traces[index]),
        borderColor: CELL1_COLOR,
        borderWidth: 1.4,
        pointRadius: 0,
        tension: 0,
        order: 2,
      },
      ...burstDatasets(panelCell1Bursts[index], CELL1_COLOR, 2),
    ];

    const chart = new Chart(ref.current, {
      type: "line",
      data: { datasets },
      plugins: [inwardTicks],
      options: {
        animation: false,
        responsive: false,
        devicePixelRatio: 1,
        events: [],
        layout: {
          padding: { top: geo.padTop, bottom: geo.padBottom, left: 0, right: PAGE_W - AXIS_RIGHT },
        },
        plugins: { legend: { display: false }, tooltip: { enabled: false }, title: { display: false } },
        scales: {
          x: {
            type: "linear",
            min: xMin,
            max: xMax,
            grid: { display: false, drawTicks: false },
            border: { display: true, color: AXIS_COLOR, width: 1 },
            ticks: {
              display: last,
              padding: 7,
              maxRotation: 0,
              autoSkip: false,
              color: AXIS_COLOR,
              font: { family: FONT, size: 18 },
              callback: (v: any) => {
                const k = xTickValues.indexOf(Number(v));
                return k >= 0 ? xTickLabels[k] : "";
              },
            },
            afterBuildTicks: (scale: any) => {
              scale.ticks = xTickValues.map((v) => ({ value: v }));
            },
            afterFit: (scale: any) => {
              scale.height = geo.xScaleH;
            },
          },
          y: {
            type: "linear",
            min: yMin,
            max: yMax,
            grid: { display: false, drawTicks: false },
            border: { display: true, color: AXIS_COLOR, width: 1 },
            ticks: {
              padding: 8,
              color: AXIS_COLOR,
              font: { family: FONT, size: 18 },
              callback: (v: any) => {
                const k = yTickValues.indexOf(Number(v));
                return k >= 0 ? yTickLabels[k] : "";
              },
            },
            afterBuildTicks: (scale: any) => {
              scale.ticks = yTickValues.map((v) => ({ value: v }));
            },
            afterFit: (scale: any) => {
              scale.width = AXIS_LEFT;
            },
            title: {
              display: true,
              text: label as any,
              color: "#000000",
              font: { family: FONT, size: 18, weight: "bold", lineHeight: 1.45 },
              padding: { top: multi ? 0 : 25, bottom: 0 },
            },
          },
        },
      } as any,
    });
    return () => chart.destroy();
  }, [index]);

  return (
    <canvas
      ref={ref}
      width={PAGE_W}
      height={geo.height}
      style={{ position: "absolute", left: 0, top: geo.canvasTop, width: PAGE_W, height: geo.height }}
    />
  );
}

function Legend() {
  const rowStyle = (top: number): React.CSSProperties => ({
    position: "absolute",
    left: 77,
    top,
    lineHeight: "22px",
    fontSize: 18,
    fontFamily: FONT,
    color: "#000",
    whiteSpace: "nowrap",
  });
  return (
    <div
      style={{
        position: "absolute",
        left: 1952,
        top: 43,
        width: 137,
        height: 54,
        boxSizing: "border-box",
        border: `1px solid ${AXIS_COLOR}`,
        background: "#ffffff",
      }}
    >
      <div style={{ position: "absolute", left: 8, top: 15, width: 63, borderTop: `1.3px solid ${CELL1_COLOR}` }} />
      <span style={rowStyle(5)}>{seriesNames[0]}</span>
      <div style={{ position: "absolute", left: 8, top: 38, width: 63, borderTop: `1.3px solid ${CELL2_COLOR}` }} />
      <span style={rowStyle(28)}>{seriesNames[1]}</span>
    </div>
  );
}

export default function App() {
  return (
    <div style={{ position: "absolute", left: 0, top: 0, width: PAGE_W, height: 1600, background: "#ffffff", overflow: "hidden" }}>
      {panelLabels.map((_, i) => (
        <Panel key={i} index={i} />
      ))}
      <Legend />
    </div>
  );
}
